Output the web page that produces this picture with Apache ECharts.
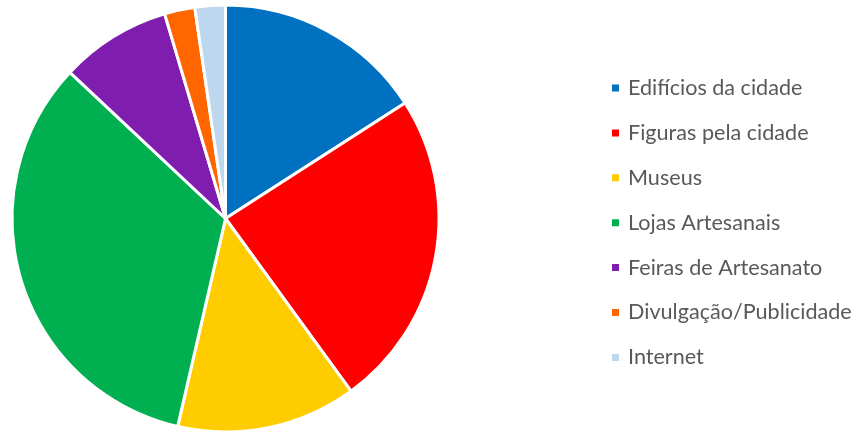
<!DOCTYPE html>
<html>
<head>
<meta charset="utf-8">
<script src="https://cdn.jsdelivr.net/npm/echarts@6/dist/echarts.min.js"></script>
<style>
  html, body { margin: 0; padding: 0; background: #fff; }
  #chart { width: 860px; height: 434px; }
</style>
</head>
<body>
<div id="chart"></div>
<script>
// Category names and their shares (%)
const categories = [
  'Edifícios da cidade',
  'Figuras pela cidade',
  'Museus',
  'Lojas Artesanais',
  'Feiras de Artesanato',
  'Divulgação/Publicidade',
  'Internet'
];
const shares = [15.9, 24.1, 13.6, 33.4, 8.4, 2.3, 2.3];
const colors = ['#0070C0', '#FF0000', '#FFCC00', '#00B050', '#7F1DAF', '#FF6600', '#BDD7EE'];

const chart = echarts.init(document.getElementById('chart'), null, { renderer: 'canvas' });

chart.setOption({
  animation: false,
  backgroundColor: '#ffffff',
  color: colors,
  legend: {
    orient: 'vertical',
    left: 610,
    top: 77,
    padding: 0,
    icon: 'rect',
    itemWidth: 9,
    itemHeight: 9,
    itemGap: 22.9,
    textStyle: {
      fontFamily: 'Lato',
      fontSize: 21.6,
      color: '#595959',
      lineHeight: 20,
      padding: [0, 0, 0, 3]
    },
    data: categories
  },
  series: [{
    type: 'pie',
    center: [225.5, 218.5],
    radius: 213.5,
    startAngle: 90,
    clockwise: true,
    label: { show: false },
    labelLine: { show: false },
    itemStyle: { borderColor: '#ffffff', borderWidth: 3 },
    emphasis: { disabled: true },
    data: categories.map((name, i) => ({ name, value: shares[i] }))
  }]
});
</script>
</body>
</html>
